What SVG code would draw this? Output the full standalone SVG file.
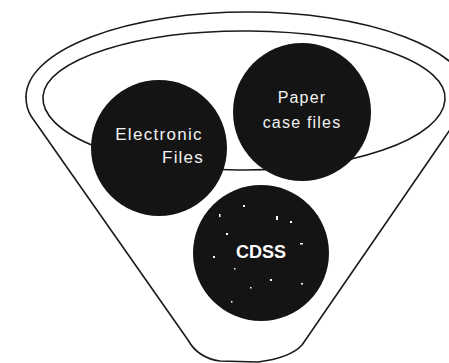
<svg xmlns="http://www.w3.org/2000/svg" width="449" height="363" viewBox="0 0 449 363">
<style>
.line{fill:none;stroke:#1a1a1a;stroke-width:1.6;stroke-linecap:round;stroke-linejoin:round}
.ball{fill:#141414}
.lbl{font-family:"Liberation Sans",Arial,sans-serif;font-size:16px;fill:#f2f2f2;text-anchor:middle;letter-spacing:1.2px}
.big{font-family:"Liberation Sans",Arial,sans-serif;font-size:18px;font-weight:bold;fill:#ffffff;text-anchor:middle}
.speck{fill:#ffffff}
</style>
<rect width="449" height="363" fill="#ffffff"/>
<g id="funnel">
<path class="line" d="M26,97 A222,85 0 0 1 470,97"/>
<path class="line" d="M26,97 Q26,108 31,116 L188,340 Q198,358 220,361 L258,362 Q290,358 302,345 L443,140 L462,112"/>
<path class="line" d="M43,96 A201,67 0 0 1 445,100 A201,72 0 0 1 43,96 Z"/>
</g>
<g id="connectors"></g>
<g id="electronic-files">
<circle class="ball" cx="159" cy="148" r="68"/>
<text class="lbl" x="159" y="140" style="font-size:17px;letter-spacing:1.3px">Electronic</text>
<text class="lbl" x="183" y="163" style="font-size:17px">Files</text>
</g>
<g id="paper-case-files">
<circle class="ball" cx="302" cy="112" r="69"/>
<text class="lbl" x="302" y="103">Paper</text>
<text class="lbl" x="302" y="128">case files</text>
</g>
<g id="cdss">
<circle class="ball" cx="261" cy="253" r="68"/>
<text class="big" x="261" y="258">CDSS</text>
<g class="speck">
<rect x="226" y="233" width="2" height="2"/>
<rect x="219" y="214" width="1.5" height="3"/>
<rect x="243" y="205" width="2" height="2"/>
<rect x="290" y="221" width="2" height="2"/>
<rect x="300" y="243" width="3" height="1.5"/>
<rect x="213" y="256" width="2" height="2"/>
<rect x="234" y="268" width="1.5" height="1.5"/>
<rect x="270" y="279" width="2" height="2"/>
<rect x="250" y="287" width="1.5" height="1.5"/>
<rect x="301" y="283" width="2" height="1.5"/>
<rect x="231" y="301" width="1.5" height="1.5"/>
<rect x="276" y="216" width="2" height="4"/>
</g>
</g>
</svg>
